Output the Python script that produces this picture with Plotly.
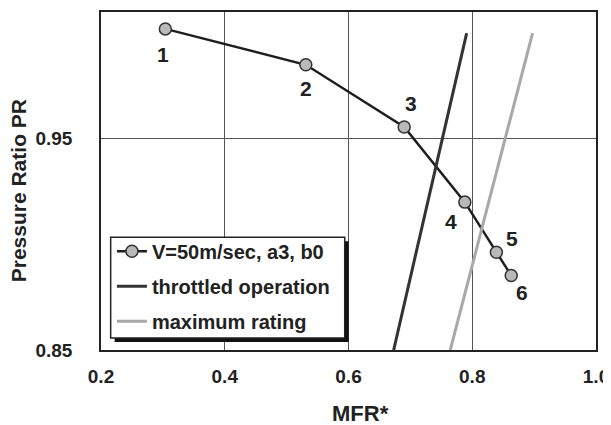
import plotly.graph_objects as go

# Data
mfr = [0.304, 0.531, 0.690, 0.788, 0.839, 0.863]
pr = [1.002, 0.985, 0.9556, 0.920, 0.8963, 0.8853]
point_labels = ["1", "2", "3", "4", "5", "6"]
label_x = [0.301, 0.531, 0.701, 0.766, 0.865, 0.881]
label_y = [0.9898, 0.9737, 0.9665, 0.9108, 0.903, 0.877]

throttled_x = [0.673, 0.791]
throttled_y = [0.85, 1.0]
maxrating_x = [0.7645, 0.8975]
maxrating_y = [0.85, 1.0]

x_ticks = [0.2, 0.4, 0.6, 0.8, 1.0]
x_ticktext = ["0.2", "0.4", "0.6", "0.8", "1.0"]
y_ticks = [0.85, 0.95]
y_ticktext = ["0.85", "0.95"]

FONT = "Liberation Sans, Arial, sans-serif"
TXT = "#222222"

# page body has an 8px margin at left/top: figure coordinates are window coordinates minus 8
OFF = 8
W, H = 611 - OFF, 425 - OFF
L, T = 101 - OFF, 10 - OFF
R, B = 611 - 598, 425 - 350
PW = W - L - R          # plot width in px
PH = H - T - B          # plot height in px


def px_x(wx):
    return (wx - OFF - L) / PW


def px_y(wy):
    return (H - B - (wy - OFF)) / PH


fig = go.Figure()
fig.add_trace(go.Scatter(
    x=mfr, y=pr, mode="lines+markers", name="<b>V=50m/sec, a3, b0</b>",
    line=dict(color="#1e1e1e", width=2.5),
    marker=dict(symbol="circle", size=12, color="#b9b9b9", line=dict(color="#333333", width=1.5)),
    legendgroup="a",
))
fig.add_trace(go.Scatter(
    x=throttled_x, y=throttled_y, mode="lines", name="<b>throttled operation</b>",
    line=dict(color="#333333", width=3), legendgroup="b",
))
fig.add_trace(go.Scatter(
    x=maxrating_x, y=maxrating_y, mode="lines", name="<b>maximum rating</b>",
    line=dict(color="#a8a8a8", width=3), legendgroup="c",
))

for t, lx, ly in zip(point_labels, label_x, label_y):
    fig.add_annotation(x=lx, y=ly, xref="x", yref="y", text="<b>%s</b>" % t,
                       showarrow=False, font=dict(family=FONT, size=21, color=TXT))

# axis titles
fig.add_annotation(xref="paper", yref="paper", x=px_x(362), y=px_y(414),
                   text="<b>MFR*</b>", showarrow=False, xanchor="center", yanchor="middle",
                   font=dict(family=FONT, size=22, color=TXT))
fig.add_annotation(xref="paper", yref="paper", x=px_x(19), y=px_y(190),
                   text="<b>Pressure Ratio PR</b>", showarrow=False, textangle=-90,
                   xanchor="center", yanchor="middle",
                   font=dict(family=FONT, size=21, color=TXT))

# legend box with shadow
bx0, bx1 = px_x(110.7), px_x(345.7)
by0, by1 = px_y(338), px_y(236.7)
dx, dy = 4 / PW, 4 / PH
fig.add_shape(type="rect", xref="paper", yref="paper", x0=bx0 + dx, x1=bx1 + dx, y0=by0 - dy, y1=by1 - dy,
              fillcolor="#111111", line=dict(width=0), layer="above")
fig.add_shape(type="rect", xref="paper", yref="paper", x0=bx0, x1=bx1, y0=by0, y1=by1,
              fillcolor="white", line=dict(color="#222222", width=1.5), layer="above")

fig.update_layout(
    width=W, height=H,
    margin=dict(l=L, r=R, t=T, b=B),
    paper_bgcolor="white", plot_bgcolor="white",
    font=dict(family=FONT, color=TXT),
    showlegend=True,
    legend=dict(x=px_x(112), y=px_y(231), xanchor="left", yanchor="top",
                bgcolor="rgba(0,0,0,0)", borderwidth=0, traceorder="grouped",
                tracegroupgap=6, itemwidth=30,
                font=dict(family=FONT, size=20, color=TXT)),
    xaxis=dict(range=[0.2, 1.0], tickvals=x_ticks, ticktext=["<b>%s</b>" % t for t in x_ticktext],
               showgrid=True, gridcolor="#555555", gridwidth=1,
               showline=True, linecolor="#222222", linewidth=1.5, mirror=True,
               ticks="", ticklabelstandoff=8, zeroline=False, ticklabeloverflow="allow",
               tickfont=dict(family=FONT, size=19, color=TXT)),
    yaxis=dict(range=[0.85, 1.01], tickvals=y_ticks, ticktext=["<b>%s</b>" % t for t in y_ticktext],
               showgrid=True, gridcolor="#555555", gridwidth=1,
               showline=True, linecolor="#222222", linewidth=1.5, mirror=True,
               ticks="", ticklabelstandoff=23, zeroline=False,
               tickfont=dict(family=FONT, size=19, color=TXT)),
)

fig.write_html("out.html")
